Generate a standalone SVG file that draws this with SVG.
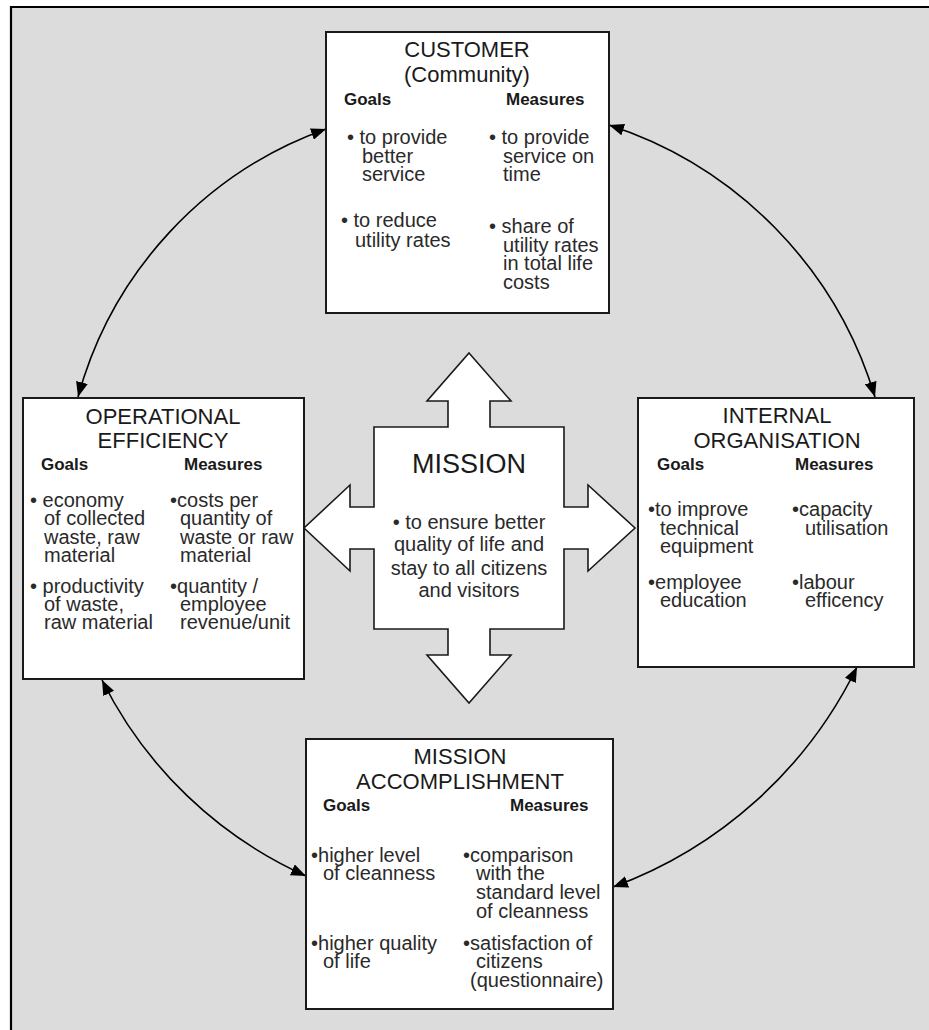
<svg xmlns="http://www.w3.org/2000/svg" width="929" height="1030" viewBox="0 0 929 1030">
<defs>
<style>
text{font-family:"Liberation Sans",Arial,sans-serif;fill:#1a1a1a}
.h{font-size:22px;text-anchor:middle}
.gm{font-size:17px;font-weight:bold}
.b{font-size:20px;fill:#2a2a2a}
.mb{font-size:20px;text-anchor:middle;fill:#2a2a2a}
.box{fill:#fff;stroke:#1a1a1a;stroke-width:2}
.arc{fill:none;stroke:#000;stroke-width:1.6}
</style>
<marker id="ah" markerUnits="userSpaceOnUse" markerWidth="16" markerHeight="12" viewBox="0 0 16 12" refX="15" refY="6" orient="auto-start-reverse">
<path d="M0,0 L15,6 L0,12 z" fill="#000"/>
</marker>
</defs>
<rect x="0" y="0" width="929" height="1030" fill="#fff"/>
<rect x="11" y="7" width="918" height="1023" fill="#dcdcdc"/>
<path d="M10,7 H929 M11,6 V1030" stroke="#000" stroke-width="2.2" fill="none"/>

<g id="connectors">
<path class="arc" d="M326,129 A395 395 0 0 0 78,397" marker-start="url(#ah)" marker-end="url(#ah)"/>
<path class="arc" d="M609,125 A410 410 0 0 1 875,397" marker-start="url(#ah)" marker-end="url(#ah)"/>
<path class="arc" d="M102,680 A420 420 0 0 0 306,876" marker-start="url(#ah)" marker-end="url(#ah)"/>
<path class="arc" d="M857,667 A440 440 0 0 1 613,887" marker-start="url(#ah)" marker-end="url(#ah)"/>
</g>

<g id="customer">
<rect class="box" x="326" y="32" width="283" height="281"/>
<text class="h" x="467" y="57">CUSTOMER<tspan x="467" y="82">(Community)</tspan></text>
<text class="gm" x="344" y="105">Goals</text>
<text class="gm" x="506" y="105">Measures</text>
<text class="b" x="347" y="144">• to provide<tspan x="362" y="163">better</tspan><tspan x="362" y="181">service</tspan></text>
<text class="b" x="341" y="227">• to reduce<tspan x="355" y="247">utility rates</tspan></text>
<text class="b" x="489" y="144">• to provide<tspan x="503" y="163">service on</tspan><tspan x="503" y="181">time</tspan></text>
<text class="b" x="489" y="233">• share of<tspan x="503" y="252">utility rates</tspan><tspan x="503" y="270">in total life</tspan><tspan x="503" y="289">costs</tspan></text>
</g>

<g id="operational">
<rect class="box" x="23" y="398" width="281" height="281"/>
<text class="h" x="163" y="424">OPERATIONAL<tspan x="163" y="448">EFFICIENCY</tspan></text>
<text class="gm" x="41" y="470">Goals</text>
<text class="gm" x="184" y="470">Measures</text>
<text class="b" x="30" y="507">• economy<tspan x="44" y="525">of collected</tspan><tspan x="44" y="544">waste, raw</tspan><tspan x="44" y="562">material</tspan></text>
<text class="b" x="30" y="593">• productivity<tspan x="44" y="611">of waste,</tspan><tspan x="44" y="629">raw material</tspan></text>
<text class="b" x="170" y="507">•costs per<tspan x="180" y="525">quantity of</tspan><tspan x="180" y="544">waste or raw</tspan><tspan x="180" y="562">material</tspan></text>
<text class="b" x="170" y="593">•quantity /<tspan x="180" y="611">employee</tspan><tspan x="180" y="629">revenue/unit</tspan></text>
</g>

<g id="internal">
<rect class="box" x="638" y="398" width="276" height="269"/>
<text class="h" x="777" y="423">INTERNAL<tspan x="777" y="448">ORGANISATION</tspan></text>
<text class="gm" x="657" y="470">Goals</text>
<text class="gm" x="795" y="470">Measures</text>
<text class="b" x="648" y="516">•to improve<tspan x="660" y="535">technical</tspan><tspan x="660" y="553">equipment</tspan></text>
<text class="b" x="648" y="589">•employee<tspan x="660" y="607">education</tspan></text>
<text class="b" x="792" y="516">•capacity<tspan x="805" y="535">utilisation</tspan></text>
<text class="b" x="792" y="589">•labour<tspan x="805" y="607">efficency</tspan></text>
</g>

<g id="mission">
<polygon points="469,353 511,401 490,401 490,427 564,427 564,507 588,507 588,485 635,528 588,571 588,549 564,549 564,629 490,629 490,655 511,655 469,703 427,655 448,655 448,629 374,629 374,549 350,549 350,571 304,528 350,485 350,507 374,507 374,427 448,427 448,401 427,401" fill="#fff" stroke="#1a1a1a" stroke-width="1.6"/>
<text x="469" y="473" style="font-size:27px;text-anchor:middle">MISSION</text>
<text class="mb" x="469" y="529">• to ensure better<tspan x="469" y="551">quality of life and</tspan><tspan x="469" y="575">stay to all citizens</tspan><tspan x="469" y="597">and visitors</tspan></text>
</g>

<g id="accomplishment">
<rect class="box" x="306" y="739" width="307" height="270"/>
<text class="h" x="460" y="764">MISSION<tspan x="460" y="789">ACCOMPLISHMENT</tspan></text>
<text class="gm" x="323" y="811">Goals</text>
<text class="gm" x="510" y="811">Measures</text>
<text class="b" x="311" y="862">•higher level<tspan x="323" y="880">of cleanness</tspan></text>
<text class="b" x="311" y="950">•higher quality<tspan x="323" y="968">of life</tspan></text>
<text class="b" x="463" y="862">•comparison<tspan x="476" y="880">with the</tspan><tspan x="476" y="899">standard level</tspan><tspan x="476" y="918">of cleanness</tspan></text>
<text class="b" x="463" y="950">•satisfaction of<tspan x="476" y="968">citizens</tspan><tspan x="470" y="987">(questionnaire)</tspan></text>
</g>
</svg>
